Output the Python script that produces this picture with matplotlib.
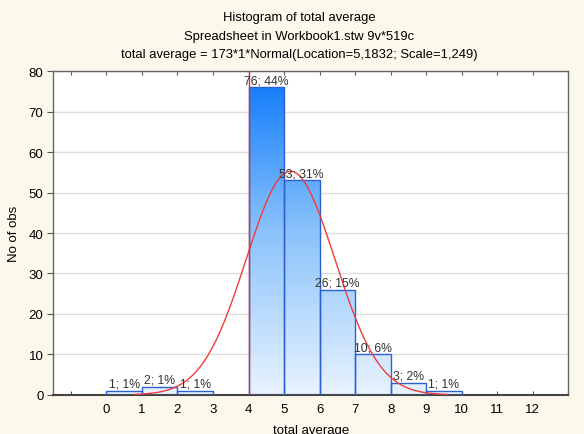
import numpy as np
import matplotlib
matplotlib.use('Agg')
import matplotlib.pyplot as plt
from matplotlib.colors import LinearSegmentedColormap

plt.rcParams['font.family'] = ['Liberation Sans', 'DejaVu Sans']

# histogram data
bin_edges = [0, 1, 2, 3, 4, 5, 6, 7, 8, 9, 10]
counts = [1, 2, 1, 0, 76, 53, 26, 10, 3, 1]
total = 173
loc = 5.1832
scale = 1.249
curve_range = (0.8, 9.6)
xticks = list(range(-1, 14))
xticklabels = [''] + [str(i) for i in range(0, 13)] + ['']
yticks = [0, 10, 20, 30, 40, 50, 60, 70, 80]

fig = plt.figure(figsize=(5.84, 4.35), dpi=100, facecolor='#fdf8ec')
ax = fig.add_axes([0.091, 0.090, 0.882, 0.744])
ax.set_facecolor('white')

ax.set_xlim(-1.5, 13)
ax.set_ylim(0, 80)

# gradient fill for bars (colour depends on height)
cmap = LinearSegmentedColormap.from_list('blu', ['#e8f3ff', '#8cc3fb', '#0a78fb'])
grad = np.linspace(0, 1, 256).reshape(-1, 1)
for i, c in enumerate(counts):
    if c == 0:
        continue
    left, right = bin_edges[i], bin_edges[i + 1]
    img = ax.imshow(grad, cmap=cmap, aspect='auto', origin='lower',
                    extent=[left, right, 0, 80], zorder=2)
    rect = plt.Rectangle((left, 0), right - left, c, facecolor='none',
                         edgecolor='#2d5fd6', linewidth=1.0, zorder=3)
    ax.add_patch(rect)
    img.set_clip_path(rect)
    pct = round(100 * c / total)
    ax.text((left + right) / 2, c + 0.3, f'{c}; {pct}%', ha='center',
            va='bottom', fontsize=8.8, color='#333333', zorder=5)

# normal curve
x = np.linspace(curve_range[0], curve_range[1], 300)
y = total * 1 * np.exp(-0.5 * ((x - loc) / scale) ** 2) / (scale * np.sqrt(2 * np.pi))
ax.plot(x, y, color='#f03c3c', linewidth=1.0, zorder=4)
ax.axvline(bin_edges[4], color='#e03030', linewidth=1.0, zorder=4)

ax.set_xticks(xticks)
ax.set_xticklabels(xticklabels)
ax.set_yticks(yticks)
ax.tick_params(axis='both', labelsize=9.5, direction='in', length=3, color='#555555')
ax.tick_params(axis='x', top=True, bottom=True, direction='in', length=3, pad=6)
ax.tick_params(axis='y', direction='out', length=4, pad=3)
ax.yaxis.grid(True, color='#dedede', linewidth=1.0, zorder=0)
ax.set_axisbelow(True)
for s in ax.spines.values():
    s.set_color('#666666')
    s.set_linewidth(1.0)
ax.spines['bottom'].set_linewidth(1.5)
ax.spines['bottom'].set_color('#444444')

ax.set_xlabel('total average', fontsize=9.5, labelpad=6)
ax.set_ylabel('No of obs', fontsize=9.5, labelpad=6)

fig.text(0.512, 0.958, 'Histogram of total average', ha='center', va='center', fontsize=9.4)
fig.text(0.512, 0.915, 'Spreadsheet in Workbook1.stw 9v*519c', ha='center', va='center', fontsize=9.4)
fig.text(0.512, 0.873, 'total average = 173*1*Normal(Location=5,1832; Scale=1,249)',
         ha='center', va='center', fontsize=9.4)

fig.savefig('out.png', dpi=100, facecolor=fig.get_facecolor())
